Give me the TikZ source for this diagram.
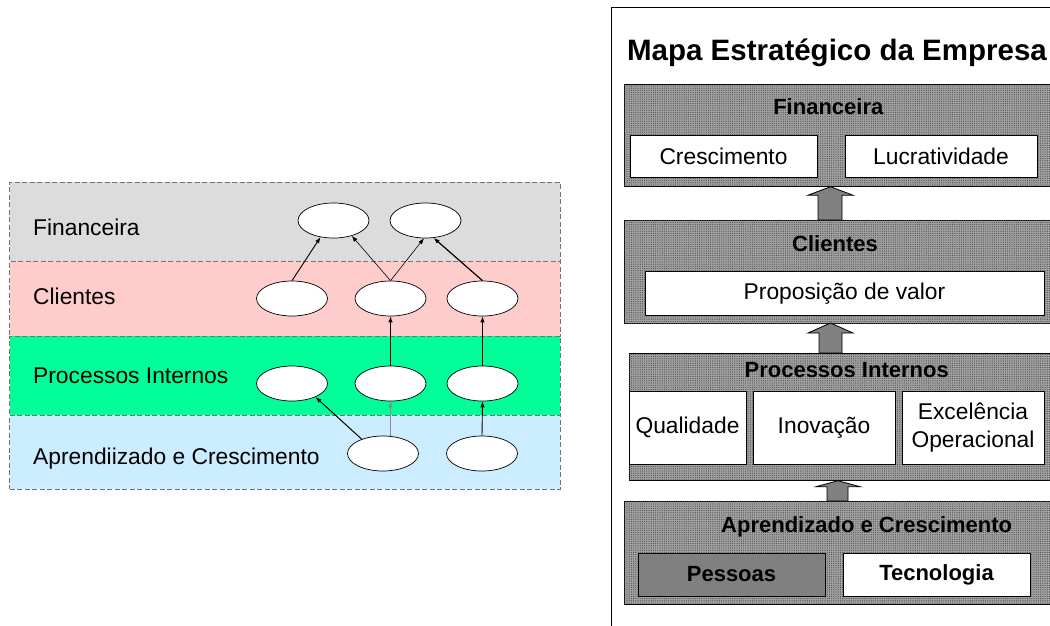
\documentclass[tikz,border=0pt]{standalone}
\usepackage{fontspec}
\setmainfont{Liberation Sans}
\usetikzlibrary{shapes.geometric,arrows.meta,calc,patterns.meta}
\definecolor{finc}{HTML}{DCDCDC}
\definecolor{clic}{HTML}{FFCCCC}
\definecolor{proc}{HTML}{00FF99}
\definecolor{aprc}{HTML}{CCECFF}
\definecolor{secfill}{HTML}{A2A2A2}
\definecolor{arrfill}{HTML}{808080}
\begin{document}
\begin{tikzpicture}[x=1pt,y=-1pt,
  band/.style={draw=black!55, dash pattern=on 5pt off 2.5pt, line width=0.9pt, inner sep=0pt, outer sep=0pt, anchor=north west},
  oval/.style={ellipse, draw, fill=white, minimum width=71pt, minimum height=35pt, inner sep=0pt, line width=0.7pt},
  arr/.style={-{Latex[length=6pt,width=4.5pt]}, line width=0.6pt},
  arrthick/.style={arr, line width=1.2pt},
  arrgray/.style={arr, draw=black!45, line width=0.6pt},
  lbl/.style={font=\fontsize{22.8}{26}\selectfont, anchor=base west, inner sep=0pt},
  secbox/.style={draw=black, line width=0.8pt, fill=secfill, anchor=north west, inner sep=0pt, outer sep=0pt,
     postaction={pattern={Dots[distance=2.2pt,radius=0.6pt]}, pattern color=black!70}},
  seclbl/.style={font=\fontsize{22}{26}\selectfont\bfseries, anchor=base, inner sep=0pt},
  ibox/.style={draw=black, line width=0.8pt, fill=white, inner sep=0pt, font=\fontsize{22.8}{28}\selectfont, align=center},
  blockarr/.style={draw=black, line width=0.8pt, fill=arrfill}
]
\useasboundingbox (0,0) rectangle (1050,625);

% ---------- left panel ----------
\node[band, fill=finc, minimum width=550.5pt, minimum height=79pt] (bf) at (9.5,182) {};
\node[band, fill=clic, minimum width=550.5pt, minimum height=75pt] (bc) at (9.5,261) {};
\node[band, fill=proc, minimum width=550.5pt, minimum height=79pt] (bp) at (9.5,336) {};
\node[band, fill=aprc, minimum width=550.5pt, minimum height=74pt] (ba) at (9.5,415) {};

\node[lbl] (lf) at (33,235.7) {Financeira};
\node[lbl] (lc) at (33,304.3) {Clientes};
\node[lbl] (lp) at (33,383.3) {Processos Internos};
\node[lbl] (la) at (33,464.3) {Aprendiizado e Crescimento};

\node[oval] (f1) at (333.5,220.5) {};
\node[oval] (f2) at (425.5,220.5) {};
\node[oval] (c1) at (292,298.5) {};
\node[oval] (c2) at (390.5,298.5) {};
\node[oval] (c3) at (482.5,298.5) {};
\node[oval] (p1) at (292,383.5) {};
\node[oval] (p2) at (390.5,383.5) {};
\node[oval] (p3) at (482.5,383.5) {};
\node[oval] (a1) at (383,453.5) {};
\node[oval] (a2) at (482,453.5) {};

\draw[arr, line width=0.9pt] (c1.north) -- (f1.232);
\draw[arr] (c2.north) -- (f1.-40);
\draw[arr] (c2.north) -- (f2.265);
\draw[arrthick] (c3.north) -- (f2.-65);
\draw[arr, line width=0.8pt] (p2.north) -- (c2.south);
\draw[arr, line width=0.8pt] (p3.north) -- (c3.south);
\draw[arr, line width=1pt] (a1.146) -- (p1.-30);
\draw[arrgray] (p2.south |- a1.north) -- (p2.south);
\draw[arr, line width=0.9pt] (a2.north) -- (p3.south);

% ---------- right panel ----------
\draw[line width=0.9pt] (611,626) -- (611,7) -- (1052,7);
\node[font=\fontsize{29.5}{32}\selectfont\bfseries, anchor=base, inner sep=0pt] (title) at (837,60) {Mapa Estratégico da Empresa};

\node[secbox, minimum width=428pt, minimum height=102.4pt] (fin) at (624,84.3) {};
\node[secbox, minimum width=428pt, minimum height=103pt] (cli) at (624,220) {};
\node[secbox, minimum width=423pt, minimum height=127.7pt] (pro) at (629,353) {};
\node[secbox, minimum width=428pt, minimum height=103pt] (apr) at (624,501) {};

\node[seclbl] (finl) at (828.3,114) {Financeira};
\node[seclbl] (clil) at (835,251.7) {Clientes};
\node[seclbl] (prol) at (846.7,377) {Processos Internos};
\node[seclbl] (aprl) at (866.7,532.7) {Aprendizado e Crescimento};

\node[ibox, minimum width=187pt, minimum height=41.3pt] (cres) at (723.5,156.35) {Crescimento};
\node[ibox, minimum width=192pt, minimum height=41.3pt] (lucr) at (941,156.35) {Lucratividade};
\node[ibox, minimum width=399pt, minimum height=43.3pt] (prop) at (844.5,293.35) {Proposição de valor};
\node[ibox, minimum width=117pt, minimum height=72.3pt] (qual) at (687.5,427.85) {Qualidade};
\node[ibox, minimum width=142pt, minimum height=72.3pt] (inov) at (824,427.85) {Inovação};
\node[ibox, minimum width=142pt, minimum height=72.3pt] (exce) at (973,427.85) {Excelência\\Operacional};
\node[ibox, minimum width=187pt, minimum height=43pt, fill=arrfill, font=\fontsize{22}{26}\selectfont\bfseries] (pess) at (731.5,574.5) {Pessoas};
\node[ibox, minimum width=187pt, minimum height=43pt, font=\fontsize{22}{26}\selectfont\bfseries] (tecn) at (936.5,574.5) {Tecnologia};

% block arrows between sections
\draw[blockarr] let \p1=(fin.south), \p2=(cli.north) in
  (818pt,\y2) -- (818pt,\y1-8.5pt) -- (808pt,\y1-8.5pt) -- (830.5pt,\y1) -- (853pt,\y1-8.5pt) -- (842pt,\y1-8.5pt) -- (842pt,\y2) -- cycle;
\draw[blockarr] let \p1=(cli.south), \p2=(pro.north) in
  (819pt,\y2) -- (819pt,\y1-10pt) -- (808pt,\y1-10pt) -- (830.5pt,\y1) -- (853pt,\y1-10pt) -- (842pt,\y1-10pt) -- (842pt,\y2) -- cycle;
\draw[blockarr] let \p1=(pro.south), \p2=(apr.north) in
  (827pt,\y2) -- (827pt,\y1-6pt) -- (816pt,\y1-6pt) -- (838pt,\y1) -- (860pt,\y1-6pt) -- (848pt,\y1-6pt) -- (848pt,\y2) -- cycle;
\end{tikzpicture}
\end{document}
